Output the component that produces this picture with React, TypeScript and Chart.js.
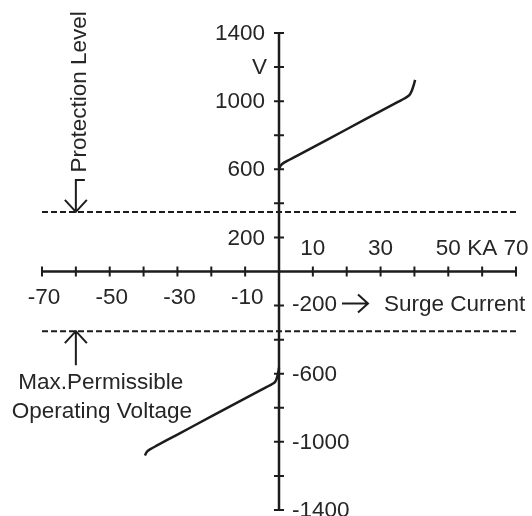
import React, { useEffect, useRef } from "react";
import { Chart, registerables } from "chart.js";

Chart.register(...registerables);

// Surge current (KA) vs voltage (V)
const upperCurrent = [0, 0.5, 1.5, 5, 10, 20, 30, 35, 37.2, 38.5, 39.3, 39.8, 40.2];
const upperVoltage = [600, 622, 639, 676, 729, 835, 941, 994, 1017, 1035, 1065, 1095, 1125];
const lowerCurrent = [0, -0.3, -0.8, -1.5, -5, -10, -20, -30, -36, -38, -39, -39.6];
const lowerVoltage = [-565, -600, -635, -655, -692, -745, -851, -957, -1021, -1043, -1058, -1080];

const protectionLevel = 350;
const maxOperatingVoltage = -350;

const xTickValues = [-70, -60, -50, -40, -30, -20, -10, 0, 10, 20, 30, 40, 50, 60, 70];
const yTickValues = [-1400, -1200, -1000, -800, -600, -400, -200, 0, 200, 400, 600, 800, 1000, 1200, 1400];

const posYLabels = [200, 600, 1000, 1400];
const negYLabels = [-200, -600, -1000, -1400];
const posXLabelValues = [10, 30, 50, 60, 70];
const posXLabelTexts = ["10", "30", "50", "KA", "70"];
const negXLabels = [-70, -50, -30, -10];

const FONT = '22.5px "Liberation Sans", Arial, sans-serif';
const INK = "#1c1c1c";
const TEXT = "#262626";

const toPoints = (xs: number[], ys: number[]) => xs.map((x, i) => ({ x, y: ys[i] }));

const diagramPlugin = {
  id: "diagram",
  afterDatasetsDraw(chart: any) {
    const ctx = chart.ctx as CanvasRenderingContext2D;
    const xs = chart.scales.x;
    const ys = chart.scales.y;
    const px = (v: number) => xs.getPixelForValue(v);
    const py = (v: number) => ys.getPixelForValue(v);
    const x0 = px(0);
    const y0 = py(0);

    ctx.save();
    ctx.strokeStyle = INK;
    ctx.fillStyle = TEXT;
    ctx.lineCap = "butt";

    // axes
    ctx.lineWidth = 2.5;
    ctx.beginPath();
    ctx.moveTo(px(-70), y0);
    ctx.lineTo(px(70), y0);
    ctx.moveTo(x0, py(1400));
    ctx.lineTo(x0, py(-1400));
    ctx.stroke();

    // ticks
    ctx.lineWidth = 2;
    ctx.beginPath();
    xTickValues.forEach((v) => {
      if (v === 0) return;
      ctx.moveTo(px(v), y0 - 5);
      ctx.lineTo(px(v), y0 + 5);
    });
    yTickValues.forEach((v) => {
      if (v === 0) return;
      ctx.moveTo(x0 - 5, py(v));
      ctx.lineTo(x0 + 5, py(v));
    });
    ctx.stroke();

    // tick labels
    ctx.font = FONT;
    ctx.textBaseline = "middle";
    ctx.textAlign = "right";
    posYLabels.forEach((v) => ctx.fillText(String(v), x0 - 14, py(v) + 1));
    ctx.fillText("V", x0 - 12, py(1200) + 1);
    ctx.textAlign = "left";
    negYLabels.forEach((v) => {
      const yy = v === -200 ? py(v) - 1 : py(v) + 1;
      ctx.fillText(String(v), x0 + 13, yy);
    });
    ctx.textAlign = "center";
    posXLabelValues.forEach((v, i) => ctx.fillText(posXLabelTexts[i], px(v), y0 - 23));
    negXLabels.forEach((v) => ctx.fillText(String(v), px(v) + 2, y0 + 26));

    // Surge current label with arrow
    const ay = py(-200) - 2;
    ctx.lineWidth = 2;
    ctx.beginPath();
    ctx.moveTo(x0 + 63, ay);
    ctx.lineTo(x0 + 89, ay);
    ctx.moveTo(x0 + 79, ay - 9);
    ctx.lineTo(x0 + 89, ay);
    ctx.lineTo(x0 + 79, ay + 9);
    ctx.stroke();
    ctx.textAlign = "left";
    ctx.fillText("Surge Current", x0 + 105, ay + 1);

    // Protection level label + arrow
    const ax = px(-60);
    const pTip = py(protectionLevel);
    ctx.beginPath();
    ctx.moveTo(ax + 9, pTip - 32);
    ctx.lineTo(ax, pTip - 32);
    ctx.lineTo(ax, pTip);
    ctx.moveTo(ax - 11, pTip - 12);
    ctx.lineTo(ax, pTip);
    ctx.lineTo(ax + 11, pTip - 12);
    ctx.stroke();
    ctx.save();
    ctx.translate(ax + 4, pTip - 120);
    ctx.rotate(-Math.PI / 2);
    ctx.textAlign = "center";
    ctx.textBaseline = "middle";
    ctx.fillText("Protection Level", 0, 0);
    ctx.restore();

    // Max permissible operating voltage label + arrow
    const mTip = py(maxOperatingVoltage);
    ctx.beginPath();
    ctx.moveTo(ax, mTip);
    ctx.lineTo(ax, mTip + 34);
    ctx.moveTo(ax - 11, mTip + 12);
    ctx.lineTo(ax, mTip);
    ctx.lineTo(ax + 11, mTip + 12);
    ctx.stroke();
    ctx.textAlign = "center";
    ctx.fillText("Max.Permissible", ax + 25, mTip + 52);
    ctx.fillText("Operating Voltage", ax + 26, mTip + 81);

    ctx.restore();
  },
};

export default function App() {
  const canvasRef = useRef<HTMLCanvasElement | null>(null);

  useEffect(() => {
    if (!canvasRef.current) return;
    const chart = new Chart(canvasRef.current, {
      type: "scatter",
      data: {
        datasets: [
          {
            label: "Upper",
            data: toPoints(upperCurrent, upperVoltage),
            showLine: true,
            borderColor: INK,
            borderWidth: 2.5,
            pointRadius: 0,
            tension: 0.3,
          },
          {
            label: "Lower",
            data: toPoints(lowerCurrent, lowerVoltage),
            showLine: true,
            borderColor: INK,
            borderWidth: 2.5,
            pointRadius: 0,
            tension: 0.3,
          },
          {
            label: "Protection Level",
            data: [
              { x: -70, y: protectionLevel },
              { x: 70, y: protectionLevel },
            ],
            showLine: true,
            borderColor: INK,
            borderWidth: 2,
            borderDash: [6, 3],
            pointRadius: 0,
          },
          {
            label: "Max. Permissible Operating Voltage",
            data: [
              { x: -70, y: maxOperatingVoltage },
              { x: 70, y: maxOperatingVoltage },
            ],
            showLine: true,
            borderColor: INK,
            borderWidth: 2,
            borderDash: [6, 3],
            pointRadius: 0,
          },
        ],
      },
      options: {
        animation: false,
        responsive: false,
        maintainAspectRatio: false,
        layout: { padding: { left: 42, right: 16, top: 33, bottom: 6 } },
        plugins: { legend: { display: false }, tooltip: { enabled: false } },
        scales: {
          x: { type: "linear", min: -70, max: 70, display: false },
          y: { type: "linear", min: -1400, max: 1400, display: false },
        },
      },
      plugins: [diagramPlugin],
    });
    return () => chart.destroy();
  }, []);

  return (
    <div style={{ position: "fixed", left: 0, top: 0, width: 532, height: 516, background: "#fff" }}>
      <canvas ref={canvasRef} width={532} height={516} style={{ display: "block" }} />
    </div>
  );
}
